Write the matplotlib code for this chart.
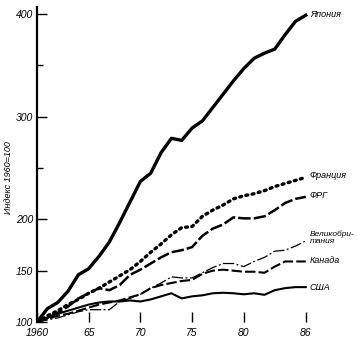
import matplotlib
matplotlib.use("Agg")
import matplotlib.pyplot as plt

plt.rcParams["font.family"] = ["Liberation Sans", "DejaVu Sans"]
plt.rcParams["font.style"] = "italic"

years = list(range(1960, 1987))

japan = [100, 113, 119, 130, 146, 152, 164, 178, 197, 217, 237, 245, 265, 279,
         277, 289, 296, 309, 322, 335, 347, 357, 362, 366, 380, 393, 399]
france = [100, 106, 111, 117, 122, 128, 133, 139, 145, 151, 159, 168, 176, 185,
          192, 193, 203, 209, 214, 220, 223, 225, 228, 232, 235, 238, 241]
frg = [100, 104, 109, 115, 123, 128, 133, 131, 136, 146, 151, 157, 163, 168,
       170, 173, 184, 191, 195, 202, 201, 201, 203, 209, 216, 220, 222]
britain = [100, 102, 104, 107, 110, 112, 112, 112, 120, 123, 127, 133, 138, 144,
           143, 143, 148, 153, 157, 157, 154, 159, 163, 169, 170, 174, 179]
canada = [100, 103, 106, 108, 111, 114, 117, 119, 121, 124, 127, 133, 136, 138,
          140, 141, 147, 150, 151, 150, 149, 149, 148, 154, 159, 159, 159]
usa = [100, 104, 108, 111, 114, 117, 119, 120, 120, 121, 120, 122, 125, 128,
       123, 125, 126, 128, 128.5, 128, 127, 128, 126.5, 131, 133, 134, 134]

series = [
    ("Япония", japan, dict(lw=2.4, ls="-")),
    ("Франция", france, dict(lw=2.4, ls=(0, (0.6, 1.3)), dash_capstyle="round")),
    ("ФРГ", frg, dict(lw=1.8, ls=(0, (5, 1.2)))),
    ("Великобри-\nтания", britain, dict(lw=0.9, ls=(0, (9, 2, 1.5, 2)))),
    ("Канада", canada, dict(lw=1.5, ls=(0, (5, 1.5)))),
    ("США", usa, dict(lw=1.5, ls="-")),
]
label_y = [400, 243, 223, 182, 160, 134]
label_size = [6.5, 6.5, 6.5, 6, 6.5, 6.5]

fig = plt.figure(figsize=(3.57, 3.42), dpi=100)
ax = fig.add_axes([37 / 357, 20 / 342, 275 / 357, 315 / 342])

for (name, vals, style), ly, fs in zip(series, label_y, label_size):
    ax.plot(years, vals, color="black", **style)
    ax.text(1986.4, ly, name, fontsize=fs, va="center", ha="left",
            linespacing=0.95)

ax.set_xlim(1960, 1986.6)
ax.set_ylim(100, 407)

ax.set_xticks([1960, 1965, 1970, 1975, 1980, 1986])
ax.set_xticklabels(["1960", "65", "70", "75", "80", "86"])
ax.set_yticks([100, 150, 200, 300, 400])
ax.set_yticks([250, 350], minor=True)

ax.tick_params(axis="both", direction="in", length=7, width=1, labelsize=7.5,
               pad=3)
ax.tick_params(axis="y", which="minor", direction="in", length=4, width=1)
ax.tick_params(axis="x", pad=4)

for side in ["top", "right", "bottom"]:
    ax.spines[side].set_visible(False)
ax.spines["left"].set_linewidth(1.6)

fig.text(9 / 357, 1 - 178 / 342, "Индекс 1960=100", rotation=90,
         fontsize=6.5, ha="center", va="center")

fig.savefig("out.png", dpi=100)
